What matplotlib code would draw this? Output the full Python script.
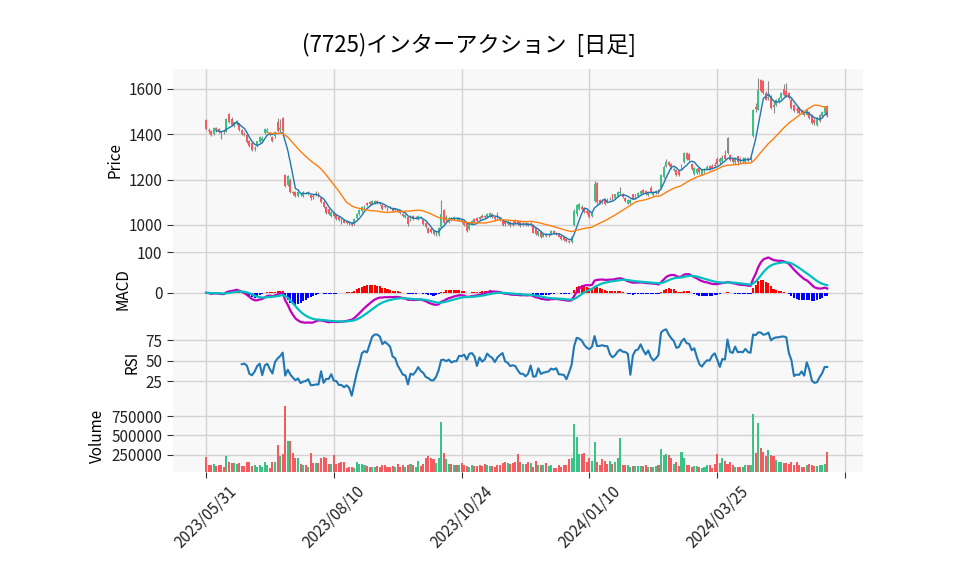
import numpy as np
import pandas as pd
import matplotlib
matplotlib.use("Agg")
import matplotlib.pyplot as plt
from matplotlib.ticker import FuncFormatter

plt.rcParams['font.family'] = ['Noto Sans CJK JP', 'DejaVu Sans']

title = "(7725)インターアクション  [日足]"
tick_pos = [0, 50, 100, 150, 200, 250]
tick_labels = ["2023/05/31", "2023/08/10", "2023/10/24", "2024/01/10", "2024/03/25", ""]
price_ticks = [1000, 1200, 1400, 1600]
macd_ticks = [0, 100]
rsi_ticks = [25, 50, 75]
vol_ticks = [250000, 500000, 750000]

opens = [1462,1420,1415,1400,1426,1422,1408,1416,1412,1488,
         1468,1436,1444,1448,1420,1402,1398,1370,1360,1334,
         1348,1366,1372,1404,1412,1402,1386,1392,1456,1420,
         1470,1222,1178,1200,1146,1146,1128,1138,1128,1140,
         1136,1132,1126,1130,1140,1120,1102,1078,1068,1040,
         1054,1044,1036,1024,1020,1014,1012,1010,1002,1030,
         1046,1062,1074,1096,1100,1094,1098,1104,1098,1086,
         1084,1074,1080,1074,1064,1068,1058,1048,1036,1034,
         1022,1038,1030,1026,1034,1022,1010,988,982,974,
         962,956,990,1064,1020,1012,1030,1024,1030,1022,
         1020,1018,1008,980,1004,1026,1030,1036,1040,1038,
         1034,1040,1046,1034,1030,1030,1022,1014,1002,1012,
         1006,1020,1016,1012,1000,1010,1006,1000,1000,984,
         956,970,948,960,954,958,974,964,962,950,
         944,936,930,924,1000,1046,1070,1078,1074,1060,
         1056,1040,1106,1186,1110,1104,1110,1110,1112,1134,
         1120,1128,1140,1136,1120,1094,1098,1134,1118,1126,
         1134,1154,1150,1130,1162,1130,1140,1154,1164,1210,
         1258,1276,1270,1240,1244,1236,1250,1276,1318,1312,
         1268,1226,1230,1250,1222,1236,1246,1258,1260,1266,
         1292,1276,1282,1308,1384,1308,1290,1276,1302,1290,
         1280,1278,1296,1288,1392,1520,1509,1641,1634,1582,
         1560,1568,1530,1530,1545,1560,1600,1590,1582,1553,
         1530,1510,1516,1508,1500,1487,1500,1487,1465,1442,
         1457,1480,1494,1523]
highs = [1466,1428,1418,1432,1432,1426,1414,1420,1472,1494,
         1474,1456,1462,1450,1424,1410,1400,1376,1364,1350,
         1372,1392,1390,1426,1426,1410,1390,1416,1472,1466,
         1476,1226,1222,1206,1150,1150,1148,1142,1150,1146,
         1148,1136,1134,1148,1144,1124,1106,1082,1072,1062,
         1058,1046,1040,1028,1024,1022,1018,1012,1028,1052,
         1068,1082,1086,1100,1104,1108,1110,1108,1102,1090,
         1088,1078,1084,1080,1076,1070,1060,1050,1046,1036,
         1044,1042,1040,1042,1040,1026,1014,992,986,978,
         976,990,1110,1070,1042,1036,1034,1038,1036,1034,
         1026,1022,1012,1008,1022,1030,1034,1040,1046,1044,
         1054,1056,1050,1040,1056,1036,1026,1018,1016,1016,
         1018,1026,1020,1016,1012,1014,1010,1014,1004,990,
         976,974,964,964,962,976,978,968,966,954,
         948,940,934,950,1068,1092,1096,1086,1078,1064,
         1060,1058,1194,1190,1116,1114,1114,1120,1124,1138,
         1138,1150,1166,1140,1124,1112,1114,1138,1138,1144,
         1152,1158,1154,1150,1172,1150,1154,1158,1226,1262,
         1292,1284,1274,1256,1248,1240,1270,1320,1322,1316,
         1272,1254,1250,1254,1244,1252,1262,1264,1268,1276,
         1300,1300,1310,1330,1386,1314,1296,1300,1306,1298,
         1298,1298,1300,1302,1512,1540,1648,1646,1640,1590,
         1634,1572,1548,1556,1564,1586,1620,1626,1588,1558,
         1534,1520,1520,1512,1504,1512,1504,1490,1470,1476,
         1490,1504,1526,1530]
lows = [1418,1406,1390,1398,1412,1404,1380,1402,1410,1448,
        1436,1430,1440,1416,1396,1392,1360,1344,1325,1326,
        1344,1362,1368,1400,1408,1394,1364,1385,1410,1412,
        1410,1165,1170,1140,1130,1124,1122,1126,1124,1134,
        1132,1110,1112,1126,1124,1096,1074,1046,1042,1036,
        1036,1022,1018,1004,1006,1004,1000,994,1000,1026,
        1044,1058,1070,1082,1088,1090,1094,1094,1086,1066,
        1074,1062,1070,1058,1060,1058,1046,1034,1032,996,
        1018,1020,1024,1022,1024,998,984,962,962,954,
        952,952,984,1004,1014,1008,1016,1020,1020,1018,
        1010,996,968,976,1000,1010,1012,1020,1028,1028,
        1030,1036,1032,1018,1022,1016,994,996,998,992,
        996,1004,998,990,996,996,994,996,962,956,
        950,940,944,944,948,954,958,954,944,934,
        930,926,920,920,996,1040,1064,1066,1052,1046,
        1030,1034,1100,1094,1090,1092,1086,1100,1108,1108,
        1116,1124,1136,1120,1102,1090,1094,1112,1114,1122,
        1130,1134,1132,1126,1140,1126,1136,1134,1160,1206,
        1254,1258,1248,1236,1216,1214,1246,1272,1286,1282,
        1242,1222,1224,1226,1218,1230,1242,1242,1246,1256,
        1264,1270,1276,1286,1314,1280,1270,1268,1266,1272,
        1274,1270,1276,1276,1388,1500,1505,1586,1578,1550,
        1550,1510,1494,1526,1540,1556,1570,1566,1556,1512,
        1498,1494,1490,1488,1482,1484,1468,1446,1440,1438,
        1452,1476,1490,1476]
closes = [1422,1416,1396,1428,1420,1408,1405,1410,1468,1452,
          1440,1452,1458,1420,1400,1398,1364,1350,1330,1340,
          1368,1388,1384,1422,1420,1398,1370,1410,1414,1428,
          1414,1172,1216,1144,1140,1128,1144,1134,1146,1138,
          1144,1118,1124,1142,1128,1100,1078,1050,1046,1058,
          1040,1026,1022,1014,1010,1008,1006,998,1024,1048,
          1064,1078,1082,1088,1094,1104,1106,1098,1090,1070,
          1080,1066,1076,1062,1072,1062,1050,1038,1042,1004,
          1040,1024,1032,1038,1030,1002,990,966,968,958,
          966,986,1046,1010,1036,1030,1020,1034,1026,1030,
          1016,1000,974,1004,1018,1014,1018,1024,1032,1034,
          1048,1050,1036,1024,1028,1020,1000,1002,1012,998,
          1004,1008,1004,994,1008,1000,998,1010,966,960,
          972,946,960,950,958,972,962,960,948,938,
          934,930,926,944,1060,1086,1090,1072,1056,1050,
          1034,1054,1180,1100,1098,1100,1090,1104,1116,1112,
          1134,1146,1144,1124,1106,1108,1110,1116,1134,1140,
          1148,1140,1136,1146,1144,1146,1150,1138,1220,1256,
          1278,1262,1254,1246,1222,1218,1266,1316,1290,1286,
          1246,1250,1246,1232,1240,1248,1256,1246,1250,1260,
          1270,1290,1296,1290,1318,1286,1278,1290,1276,1286,
          1292,1294,1286,1292,1508,1512,1597,1590,1582,1553,
          1566,1516,1520,1553,1560,1582,1575,1570,1560,1516,
          1502,1505,1494,1494,1486,1508,1472,1450,1448,1472,
          1487,1500,1523,1479]
volumes_k = [220,114,114,127,106,114,114,93,228,148,
             135,135,127,135,102,102,148,148,102,120,
             85,114,85,148,119,77,148,148,380,232,
             253,885,430,430,274,203,211,127,119,114,
             85,274,140,140,140,211,220,211,127,127,
             240,127,135,152,152,77,85,85,77,148,
             127,127,114,106,85,93,85,106,85,114,
             114,85,93,102,93,127,85,119,93,114,
             127,114,93,160,106,127,211,232,200,190,
             140,211,674,274,190,127,127,114,119,114,
             135,114,106,93,114,106,102,114,98,127,
             114,106,102,93,114,120,140,148,135,130,
             135,148,262,148,127,127,148,135,93,160,
             114,114,119,135,98,114,77,80,119,93,
             114,119,190,210,653,476,262,262,274,148,
             200,170,409,148,114,190,170,127,170,127,
             148,200,464,114,114,114,93,102,102,106,
             106,106,114,93,93,85,106,114,325,241,
             253,241,211,127,148,106,287,211,114,114,
             85,102,102,85,77,85,114,114,77,127,
             253,135,211,168,127,148,114,85,85,85,
             93,114,114,114,780,274,666,337,287,232,
             304,241,232,177,157,157,135,135,127,148,
             114,148,114,93,93,114,127,114,106,106,
             114,114,127,287]

o = np.array(opens, float)
h = np.array(highs, float)
l = np.array(lows, float)
c = np.array(closes, float)
v = np.array(volumes_k, float) * 1000
n = len(c)
x = np.arange(n)

cs = pd.Series(c)
sma5 = cs.rolling(5).mean()
sma25 = cs.rolling(25).mean()
ema12 = cs.ewm(span=12, adjust=False).mean()
ema26 = cs.ewm(span=26, adjust=False).mean()
macd = ema12 - ema26
signal = macd.ewm(span=9, adjust=False).mean()
hist = macd - signal
d = cs.diff()
gain = d.clip(lower=0).rolling(14).mean()
loss = (-d).clip(lower=0).rolling(14).mean()
rsi = 100 * gain / (gain + loss)

UP = '#3cc287'
DOWN = '#f45b5e'
FACE = '#f8f8f8'
GRID = '#d4d4d4'

fig = plt.figure(figsize=(9.58, 5.75), dpi=100)
L, W = 173 / 958, 690 / 958
def pos(top, bot):
    return [L, 1 - bot / 575, W, (bot - top) / 575]
ax1 = fig.add_axes(pos(69, 252))
ax2 = fig.add_axes(pos(252, 326), sharex=ax1)
ax3 = fig.add_axes(pos(326, 399), sharex=ax1)
ax4 = fig.add_axes(pos(399, 472), sharex=ax1)

for ax in (ax1, ax2, ax3, ax4):
    ax.set_facecolor(FACE)
    for s in ax.spines.values():
        s.set_visible(False)
    ax.grid(True, color=GRID, lw=1.0)
    ax.set_axisbelow(True)
    ax.tick_params(labelsize=11, colors='#222222', length=4, color='#333333')
    ax.set_xticks(tick_pos)

up = c >= o
colors = np.where(up, UP, DOWN)

# price
ax1.vlines(x, l, h, color='#8a8a8a', lw=0.8, zorder=2)
body = np.where(np.abs(c - o) < 0.5, 1.0, c - o)
ax1.bar(x, body, bottom=o, width=0.75, color=colors, lw=0, zorder=3)
ax1.plot(x, sma5, color='#1f77b4', lw=1.0, zorder=4)
ax1.plot(x, sma25, color='#ff7f0e', lw=1.0, zorder=4)
lo, hi = l.min(), h.max()
pad = 0.055 * (hi - lo)
ax1.set_ylim(lo - pad, hi + pad)
ax1.set_yticks(price_ticks)
ax1.set_ylabel('Price', fontsize=11)

# macd
hcol = np.where(hist >= 0, 'red', 'blue')
ax2.bar(x, hist, width=0.8, color=hcol, lw=0, zorder=3)
ax2.plot(x, macd, color='m', lw=1.6, zorder=4)
ax2.plot(x, signal, color='c', lw=1.6, zorder=4)
ax2.margins(y=0.05)
ax2.set_yticks(macd_ticks)
ax2.set_ylabel('MACD', fontsize=11)

# rsi
ax3.plot(x, rsi, color='#1f77b4', lw=1.5, zorder=4)
ax3.margins(y=0.05)
ax3.set_yticks(rsi_ticks)
ax3.set_ylabel('RSI', fontsize=11)

# volume
ax4.bar(x, v, width=0.8, color=colors, lw=0, zorder=3)
ax4.set_ylim(0.3 * v.min(), 1.1 * v.max())
ax4.set_yticks(vol_ticks)
ax4.yaxis.set_major_formatter(FuncFormatter(lambda val, p: f"{int(val)}"))
ax4.set_ylabel('Volume', fontsize=11)

for ax in (ax1, ax2, ax3):
    ax.tick_params(axis='x', length=0, labelbottom=False)
ax4.set_xticklabels(tick_labels, rotation=45, ha='center')
ax1.set_xlim(-12.9, 257.0)

fig.text(469 / 958, 1 - 45 / 575, title, ha='center', va='center', fontsize=16)
fig.savefig('out.png', dpi=100)
